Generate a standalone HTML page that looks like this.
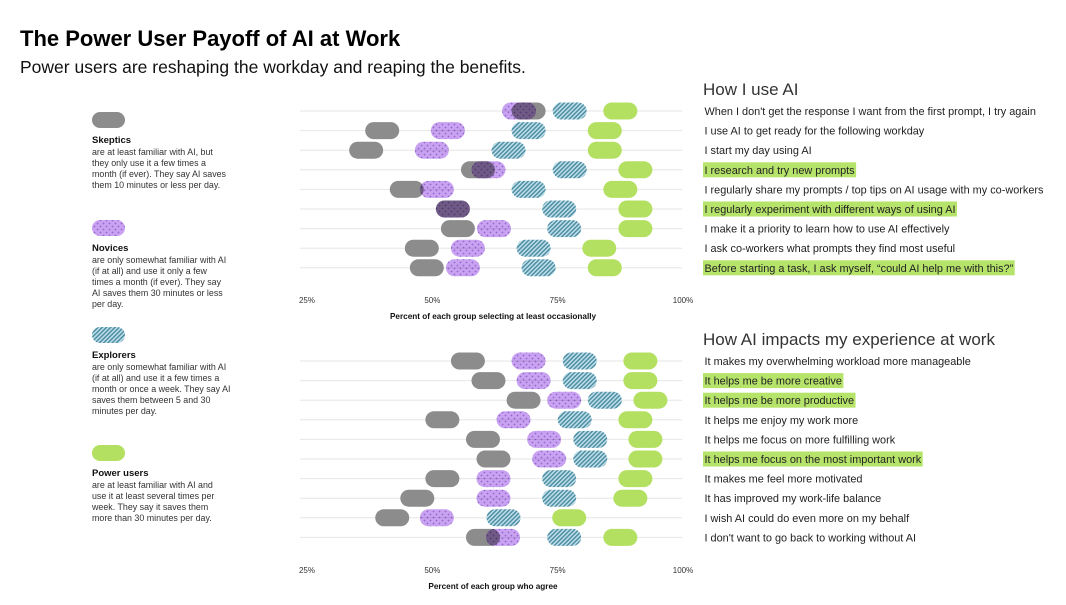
<!DOCTYPE html>
<html><head><meta charset="utf-8"><style>
body{margin:0;background:#fff;}
svg{display:block;font-family:"Liberation Sans",sans-serif;}
</style></head><body>
<svg id="root" width="1066" height="605" viewBox="0 0 1066 605">
<defs>
<pattern id="dots" width="6" height="6" patternUnits="userSpaceOnUse">
<rect width="6" height="6" fill="#c9a3f2"/><circle cx="1.5" cy="1.5" r="0.9" fill="#9466cc"/><circle cx="4.5" cy="4.5" r="0.9" fill="#9466cc"/>
</pattern>
<pattern id="hatch" width="3" height="3" patternUnits="userSpaceOnUse" patternTransform="rotate(45)">
<rect width="3" height="3" fill="#bfe0ea"/><rect width="1.5" height="3" fill="#4f8ea3"/>
</pattern>
</defs>
<text x="20" y="46" font-size="22" font-weight="bold" fill="#000">The Power User Payoff of AI at Work</text>
<text x="20" y="73" font-size="17.5" fill="#111">Power users are reshaping the workday and reaping the benefits.</text>
<g id="legend"></g>
<g id="top"></g>
<g id="bot"></g>
</svg>
<script>
const NS="http://www.w3.org/2000/svg";
const groups=["Skeptics","Novices","Explorers","Power users"];
const fills=["#8c8c8c","url(#dots)","url(#hatch)","#b3e061"];
const topCategories=["When I don't get the response I want from the first prompt, I try again","I use AI to get ready for the following workday","I start my day using AI","I research and try new prompts","I regularly share my prompts / top tips on AI usage with my co-workers","I regularly experiment with different ways of using AI","I make it a priority to learn how to use AI effectively","I ask co-workers what prompts they find most useful","Before starting a task, I ask myself, \u201ccould AI help me with this?\u201d"];
const topHighlight=[0,0,0,1,0,1,0,0,1];
const topSkeptics=[69.2,40,36.8,59.1,44.9,54.1,55.1,47.9,48.9];
const topNovices=[67.3,53.1,49.9,61.2,50.9,54.1,62.3,57.1,56.1];
const topExplorers=[77.4,69.2,65.2,77.4,69.2,75.3,76.3,70.2,71.2];
const topPower=[87.5,84.4,84.4,90.5,87.5,90.5,90.5,83.3,84.4];
const botCategories=["It makes my overwhelming workload more manageable","It helps me be more creative","It helps me be more productive","It helps me enjoy my work more","It helps me focus on more fulfilling work","It helps me focus on the most important work","It makes me feel more motivated","It has improved my work-life balance","I wish AI could do even more on my behalf","I don't want to go back to working without AI"];
const botHighlight=[0,1,1,0,0,1,0,0,0,0];
const botSkeptics=[57.1,61.2,68.2,52,60.1,62.2,52,47,42,60.1];
const botNovices=[69.2,70.2,76.3,66.2,72.3,73.3,62.2,62.2,50.9,64.1];
const botExplorers=[79.4,79.4,84.4,78.4,81.5,81.5,75.3,75.3,64.2,76.3];
const botPower=[91.5,91.5,93.5,90.5,92.5,92.5,90.5,89.5,77.3,87.5];
const tickLabels=["25%","50%","75%","100%"];
const tickValues=[25,50,75,100];
const legendText=[
 ["are at least familiar with AI, but","they only use it a few times a","month (if ever). They say AI saves","them 10 minutes or less per day."],
 ["are only somewhat familiar with AI","(if at all) and use it only a few","times a month (if ever). They say","AI saves them 30 minutes or less","per day."],
 ["are only somewhat familiar with AI","(if at all) and use it a few times a","month or once a week. They say AI","saves them between 5 and 30","minutes per day."],
 ["are at least familiar with AI and","use it at least several times per","week. They say it saves them","more than 30 minutes per day."]];
const legendY=[112,220,327,445];

function mk(tag,attrs,parent){const e=document.createElementNS(NS,tag);for(const k in attrs)e.setAttribute(k,attrs[k]);parent.appendChild(e);return e;}
const xs=v=>307+(v-25)*(376/75);
const PW=34,PH=17;
const LFS=10.9;

function chart(g,y0,cats,hl,series,heading,axisTitle,axisY){
  const step=19.6;
  const ys=i=>y0+i*step;
  const h=mk("text",{x:703,y:y0-16,"font-size":17,fill:"#333"},g);h.textContent=heading;
  
  
  cats.forEach((c,i)=>{
    const gl=mk("line",{x1:300,x2:682,y1:ys(i),y2:ys(i),stroke:"#e6e6e6","stroke-width":1},g);
    
    
    if(hl[i]){const t0=document.createElementNS(NS,"text");t0.setAttribute("font-size",LFS);t0.textContent=c;g.appendChild(t0);const w=t0.getComputedTextLength();g.removeChild(t0);
      const r=mk("rect",{x:703,y:ys(i)-7.5,width:w+3,height:15,fill:"#b6e36a"},g);
      
      }
    const t=mk("text",{x:704.5,y:ys(i)+4,"font-size":LFS,fill:"#222"},g);t.textContent=c;
    
    
  });
  series.forEach((arr,s)=>{
    arr.forEach((v,i)=>{
      const r=mk("rect",{x:xs(v)-PW/2,y:ys(i)-PH/2,width:PW,height:PH,rx:8.5,fill:fills[s]},g);
      if(s==1)r.setAttribute("style","mix-blend-mode:multiply");
      
      
    });
  });
  tickValues.forEach((v,k)=>{
    const t=mk("text",{x:xs(v),y:axisY,"font-size":8,fill:"#333","text-anchor":"middle"},g);t.textContent=tickLabels[k];
    
    
  });
  const at=mk("text",{x:493,y:axisY+16,"font-size":8.2,"font-weight":"bold",fill:"#111","text-anchor":"middle"},g);at.textContent=axisTitle;
  
  
}
chart(document.getElementById("top"),111,topCategories,topHighlight,[topSkeptics,topNovices,topExplorers,topPower],"How I use AI","Percent of each group selecting at least occasionally",303);
chart(document.getElementById("bot"),361,botCategories,botHighlight,[botSkeptics,botNovices,botExplorers,botPower],"How AI impacts my experience at work","Percent of each group who agree",573);

const lg=document.getElementById("legend");
groups.forEach((gname,k)=>{
  const y=legendY[k];
  const p=mk("rect",{x:92,y:y,width:33,height:16,rx:8,fill:fills[k]},lg);
  
  
  const t=mk("text",{x:92,y:y+31,"font-size":9.5,"font-weight":"bold",fill:"#111"},lg);t.textContent=gname;
  
  
  legendText[k].forEach((ln,j)=>{
    const d=mk("text",{x:92,y:y+43+j*11,"font-size":8.9,fill:"#333"},lg);d.textContent=ln;
    
    
  });
});
</script>
</body></html>
